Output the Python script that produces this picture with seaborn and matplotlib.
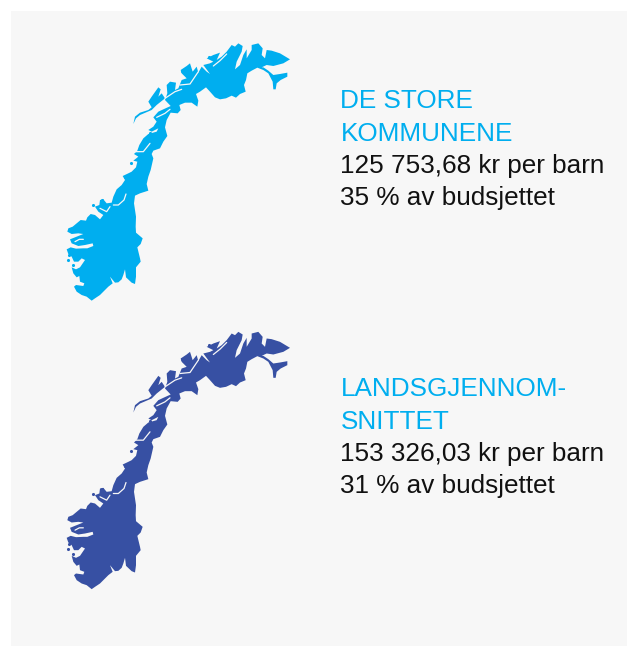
"""
plot.py

Two maps of Norway with spending figures next to them.
"""

import numpy as np
import matplotlib.pyplot as plt
import seaborn as sns

# Outline of the mainland (map units, y down)
coast_x = [125, 110, 95, 80, 72, 78, 100, 103, 90, 88, 80, 70, 65, 78, 90, 105, 95, 85, 72, 65,
           55, 50, 62, 78, 100, 112, 130, 128, 105, 85, 65, 60, 75, 100, 85, 65, 52, 55, 68, 80,
           92, 108, 112, 122, 135, 150, 160, 145, 135, 148, 150, 160, 170, 185, 190, 200, 215,
           225, 218, 235, 245, 258, 262, 250, 265, 252, 262, 268, 280, 295, 320, 325, 305, 295,
           310, 320, 310, 325, 340, 362, 345, 352, 350, 360, 378, 375, 385, 395, 410, 395, 392,
           410, 420, 428, 440, 445, 455, 470, 480, 460, 480, 490, 470, 490, 510, 500, 515, 530,
           545, 555, 565, 578, 575, 560, 555, 570, 580, 590, 590, 605, 605, 625, 638, 635, 645,
           650, 665, 690, 720, 700, 670, 650, 635, 640, 655, 670, 690, 712, 712, 692, 680, 677,
           670, 668, 655, 640, 622, 605, 592, 588, 582, 587, 570, 558, 545, 528, 510, 495, 480,
           468, 450, 438, 445, 442, 425, 405, 388, 392, 383, 362, 350, 345, 352, 340, 330, 310,
           305, 310, 302, 295, 290, 295, 270, 255, 252, 258, 257, 258, 278, 272, 262, 270, 272,
           258, 258, 255, 245, 228, 225, 220, 215, 205, 195, 180, 188, 175, 160, 150, 135, 125]
coast_y = [812, 800, 795, 785, 770, 765, 768, 760, 755, 738, 742, 730, 712, 718, 712, 690, 685,
           695, 695, 680, 672, 658, 652, 656, 655, 655, 648, 640, 645, 648, 640, 628, 622, 612,
           610, 612, 605, 595, 590, 580, 570, 572, 562, 552, 555, 568, 555, 545, 530, 525, 510,
           508, 520, 518, 500, 478, 465, 450, 438, 430, 425, 412, 395, 392, 380, 372, 362, 345,
           325, 312, 305, 295, 305, 300, 290, 275, 262, 245, 238, 228, 210, 190, 165, 155, 158,
           180, 175, 150, 145, 130, 120, 108, 100, 125, 110, 128, 110, 125, 132, 105, 100, 95,
           85, 75, 68, 90, 80, 65, 45, 50, 40, 48, 65, 95, 118, 105, 75, 58, 85, 60, 45, 40, 55,
           75, 85, 60, 62, 70, 88, 100, 108, 105, 112, 112, 122, 135, 132, 128, 140, 150, 160,
           178, 178, 155, 130, 120, 113, 122, 130, 150, 165, 185, 192, 203, 197, 205, 208, 202,
           185, 172, 185, 192, 212, 230, 218, 218, 225, 240, 250, 248, 270, 292, 318, 335, 355,
           362, 372, 385, 420, 440, 462, 482, 490, 497, 520, 560, 590, 608, 625, 642, 652, 685,
           695, 712, 740, 762, 758, 742, 718, 735, 748, 757, 758, 740, 760, 770, 785, 795, 805,
           812]

# Lofoten and Vesteraalen, which stand apart from the mainland
island_x = [250, 255, 270, 295, 305, 295, 305, 325, 332, 325, 335, 345, 320, 305, 270, 258]
island_y = [282, 260, 248, 240, 232, 215, 200, 172, 178, 200, 190, 205, 225, 240, 255, 265]

# Small islands off the coast
islet_x = [242, 53, 58, 70, 130, 300, 395, 478, 225, 155]
islet_y = [398, 690, 675, 705, 525, 308, 122, 80, 442, 510]

# Fjords, cut out of the outline
fjord_a_x = [190, 205, 222, 228]
fjord_a_y = [525, 525, 510, 492]
fjord_b_x = [390, 420, 445]
fjord_b_y = [165, 162, 125]
fjord_c_x = [345, 375, 395]
fjord_c_y = [205, 185, 178]
fjord_d_x = [490, 510, 530]
fjord_d_y = [108, 92, 72]
fjord_e_x = [320, 345, 360]
fjord_e_y = [262, 250, 238]
fjord_f_x = [255, 280, 300]
fjord_f_y = [365, 365, 340]
fjord_g_x = [75, 88, 100]
fjord_g_y = [635, 628, 628]
fjord_h_x = [150, 170, 180]
fjord_h_y = [535, 545, 530]
fjords_x = [fjord_a_x, fjord_b_x, fjord_c_x, fjord_d_x, fjord_e_x, fjord_f_x, fjord_g_x, fjord_h_x]
fjords_y = [fjord_a_y, fjord_b_y, fjord_c_y, fjord_d_y, fjord_e_y, fjord_f_y, fjord_g_y, fjord_h_y]

# Text next to each map
top_heading = ["DE STORE", "KOMMUNENE"]
top_lines = ["125 753,68 kr per barn", "35 % av budsjettet"]
bottom_heading = ["LANDSGJENNOM-", "SNITTET"]
bottom_lines = ["153 326,03 kr per barn", "31 % av budsjettet"]

PANEL = "#f7f7f7"
CYAN = "#00aeef"
BLUE = "#3750a3"


# ====================
def draw_map(ax, top, color):
    """Draw the map of Norway with its map units starting at pixel row top."""

    ax.fill(np.array(coast_x) / 3 + 50, np.array(coast_y) / 3 + top, color=color, lw=0)
    ax.fill(np.array(island_x) / 3 + 50, np.array(island_y) / 3 + top, color=color, lw=0)
    sns.scatterplot(x=np.array(islet_x) / 3 + 50, y=np.array(islet_y) / 3 + top, color=color,
                    s=5, linewidth=0, ax=ax)
    for fx, fy in zip(fjords_x, fjords_y):
        sns.lineplot(x=np.array(fx) / 3 + 50, y=np.array(fy) / 3 + top, sort=False,
                     estimator=None, color=PANEL, lw=0.9, ax=ax)


# ====================
def draw_text(ax, base, heading, lines):
    """Write the heading and the two figures from baseline row base."""

    for i, line in enumerate(heading + lines):
        color = CYAN if i < 2 else "#111111"
        ax.text(340.5, base + i * 32.2, line, color=color, fontsize=18.85, va="baseline")


# ====================
def main():

    sns.set_theme(style="white")
    plt.rcParams['font.family'] = ['Liberation Sans', 'DejaVu Sans']

    fig = plt.figure(figsize=(6.27, 6.46), dpi=100)
    ax = fig.add_axes([11 / 627, 0, 616 / 627, 635 / 646])
    ax.set_facecolor(PANEL)
    for spine in ax.spines.values():
        spine.set_visible(False)

    draw_map(ax, 30, CYAN)
    draw_map(ax, 318.5, BLUE)
    draw_text(ax, 108.5, top_heading, top_lines)
    draw_text(ax, 396.5, bottom_heading, bottom_lines)

    ax.set_xlim(11, 627)
    ax.set_ylim(646, 11)
    ax.set_xticks([])
    ax.set_yticks([])

    fig.savefig("out.png", dpi=100)


# ====================
if __name__ == "__main__":

    main()
